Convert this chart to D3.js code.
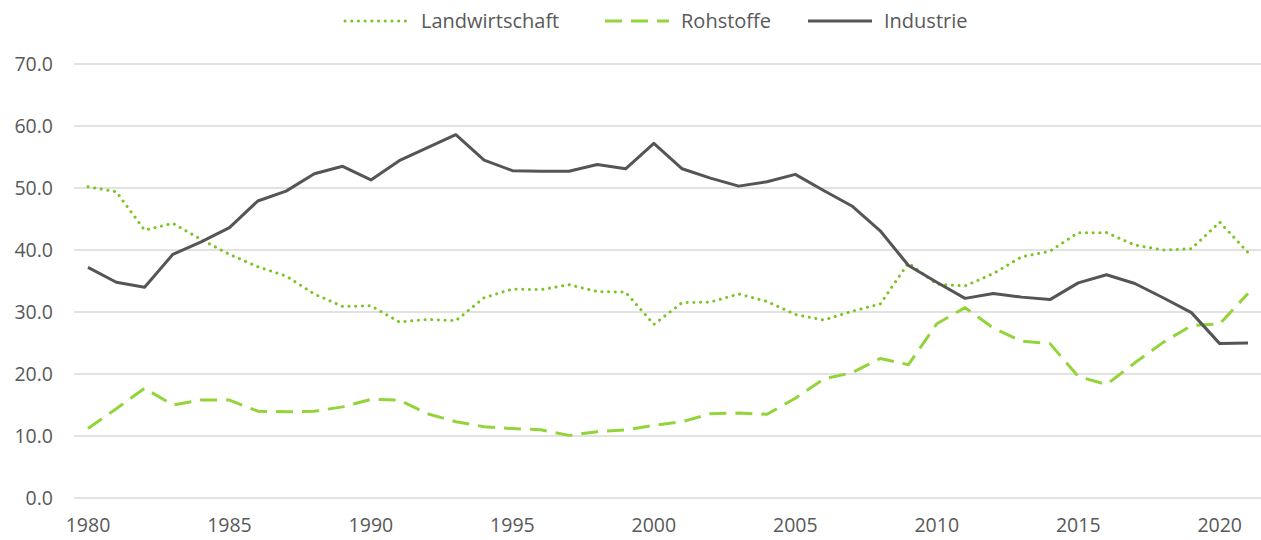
<!DOCTYPE html>
<html>
<head>
<meta charset="utf-8">
<script src="https://cdn.jsdelivr.net/npm/d3@7"></script>
<style>
  body { margin: 0; background: #fff; }
  text { font-family: "Open Sans", sans-serif; fill: #595959; }
</style>
</head>
<body>
<div id="chart"></div>
<script>
// data
var years = d3.range(1980, 2022);
var landwirtschaft = [50.2, 49.4, 43.2, 44.3, 41.7, 39.3, 37.3, 35.8, 32.9, 30.9,
    31.0, 28.4, 28.8, 28.6, 32.3, 33.7, 33.6, 34.4, 33.3, 33.2,
    28.0, 31.5, 31.6, 32.9, 31.7, 29.6, 28.7, 30.1, 31.3, 37.9,
    34.5, 34.2, 36.2, 38.9, 39.8, 42.8, 42.8, 40.8, 40.0, 40.2,
    44.5, 39.6];
var rohstoffe = [11.2, 14.4, 17.7, 15.0, 15.8, 15.8, 14.0, 13.9, 14.0, 14.7,
    15.9, 15.8, 13.6, 12.3, 11.5, 11.2, 11.0, 10.1, 10.7, 11.0,
    11.7, 12.3, 13.6, 13.7, 13.5, 16.1, 19.2, 20.2, 22.5, 21.5,
    28.1, 30.7, 27.4, 25.3, 24.9, 19.6, 18.3, 21.8, 25.1, 27.8,
    28.1, 33.0];
var industrie = [37.2, 34.8, 34.0, 39.3, 41.3, 43.6, 47.9, 49.5, 52.3, 53.5,
    51.3, 54.4, 56.5, 58.6, 54.5, 52.8, 52.7, 52.7, 53.8, 53.1,
    57.2, 53.1, 51.6, 50.3, 51.0, 52.2, 49.6, 47.1, 43.1, 37.5,
    34.8, 32.2, 33.0, 32.4, 32.0, 34.7, 36.0, 34.6, 32.3, 29.9,
    24.9, 25.0];
var yTicks = [0, 10, 20, 30, 40, 50, 60, 70];
var xTicks = [1980, 1985, 1990, 1995, 2000, 2005, 2010, 2015, 2020];

var series = [
    { name: "Landwirtschaft", values: landwirtschaft, color: "#7cc423", dash: "0.1 6.6", cap: "round" },
    { name: "Rohstoffe", values: rohstoffe, color: "#92d43a", dash: "17 9", cap: "butt" },
    { name: "Industrie", values: industrie, color: "#555555", dash: null, cap: "butt" }
];

const w = 1261;
const h = 540;

var svg = d3.select("#chart")
    .append("svg")
    .attr("width", w)
    .attr("height", h);

var x = d3.scaleLinear().domain([1980, 2021]).range([88, 1248]);
var y = d3.scaleLinear().domain([0, 70]).range([498, 64]);

// gridlines
svg.append("g")
    .selectAll("line")
    .data(yTicks)
    .enter()
    .append("line")
    .attr("x1", 74)
    .attr("x2", 1261)
    .attr("y1", d => y(d))
    .attr("y2", d => y(d))
    .attr("stroke", "#d9d9d9")
    .attr("stroke-width", 1.3);

// y labels
svg.append("g")
    .selectAll("text")
    .data(yTicks)
    .enter()
    .append("text")
    .attr("x", 53)
    .attr("y", d => y(d))
    .attr("dy", "0.36em")
    .attr("text-anchor", "end")
    .attr("font-size", 19.5)
    .text(d => d.toFixed(1));

// x labels
svg.append("g")
    .selectAll("text")
    .data(xTicks)
    .enter()
    .append("text")
    .attr("x", d => x(d))
    .attr("y", 532)
    .attr("text-anchor", "middle")
    .attr("font-size", 19.5)
    .text(d => d);

// lines
var line = d3.line()
    .x((d, i) => x(years[i]))
    .y(d => y(d));

series.forEach(function (s) {
    svg.append("path")
        .datum(s.values)
        .attr("d", line)
        .attr("fill", "none")
        .attr("stroke", s.color)
        .attr("stroke-width", 3)
        .attr("stroke-linejoin", "round")
        .attr("stroke-linecap", s.cap)
        .attr("stroke-dasharray", s.dash);
});

// legend
var legendX = [345, 605, 808];
var legend = svg.append("g")
    .selectAll("g")
    .data(series)
    .enter()
    .append("g")
    .attr("transform", (d, i) => "translate(" + legendX[i] + ",21)");

legend.append("line")
    .attr("x1", 0)
    .attr("x2", 64)
    .attr("stroke", d => d.color)
    .attr("stroke-width", 3)
    .attr("stroke-linecap", d => d.cap)
    .attr("stroke-dasharray", d => d.dash);

legend.append("text")
    .attr("x", 76)
    .attr("dy", "0.36em")
    .attr("font-size", 20)
    .text(d => d.name);
</script>
</body>
</html>
